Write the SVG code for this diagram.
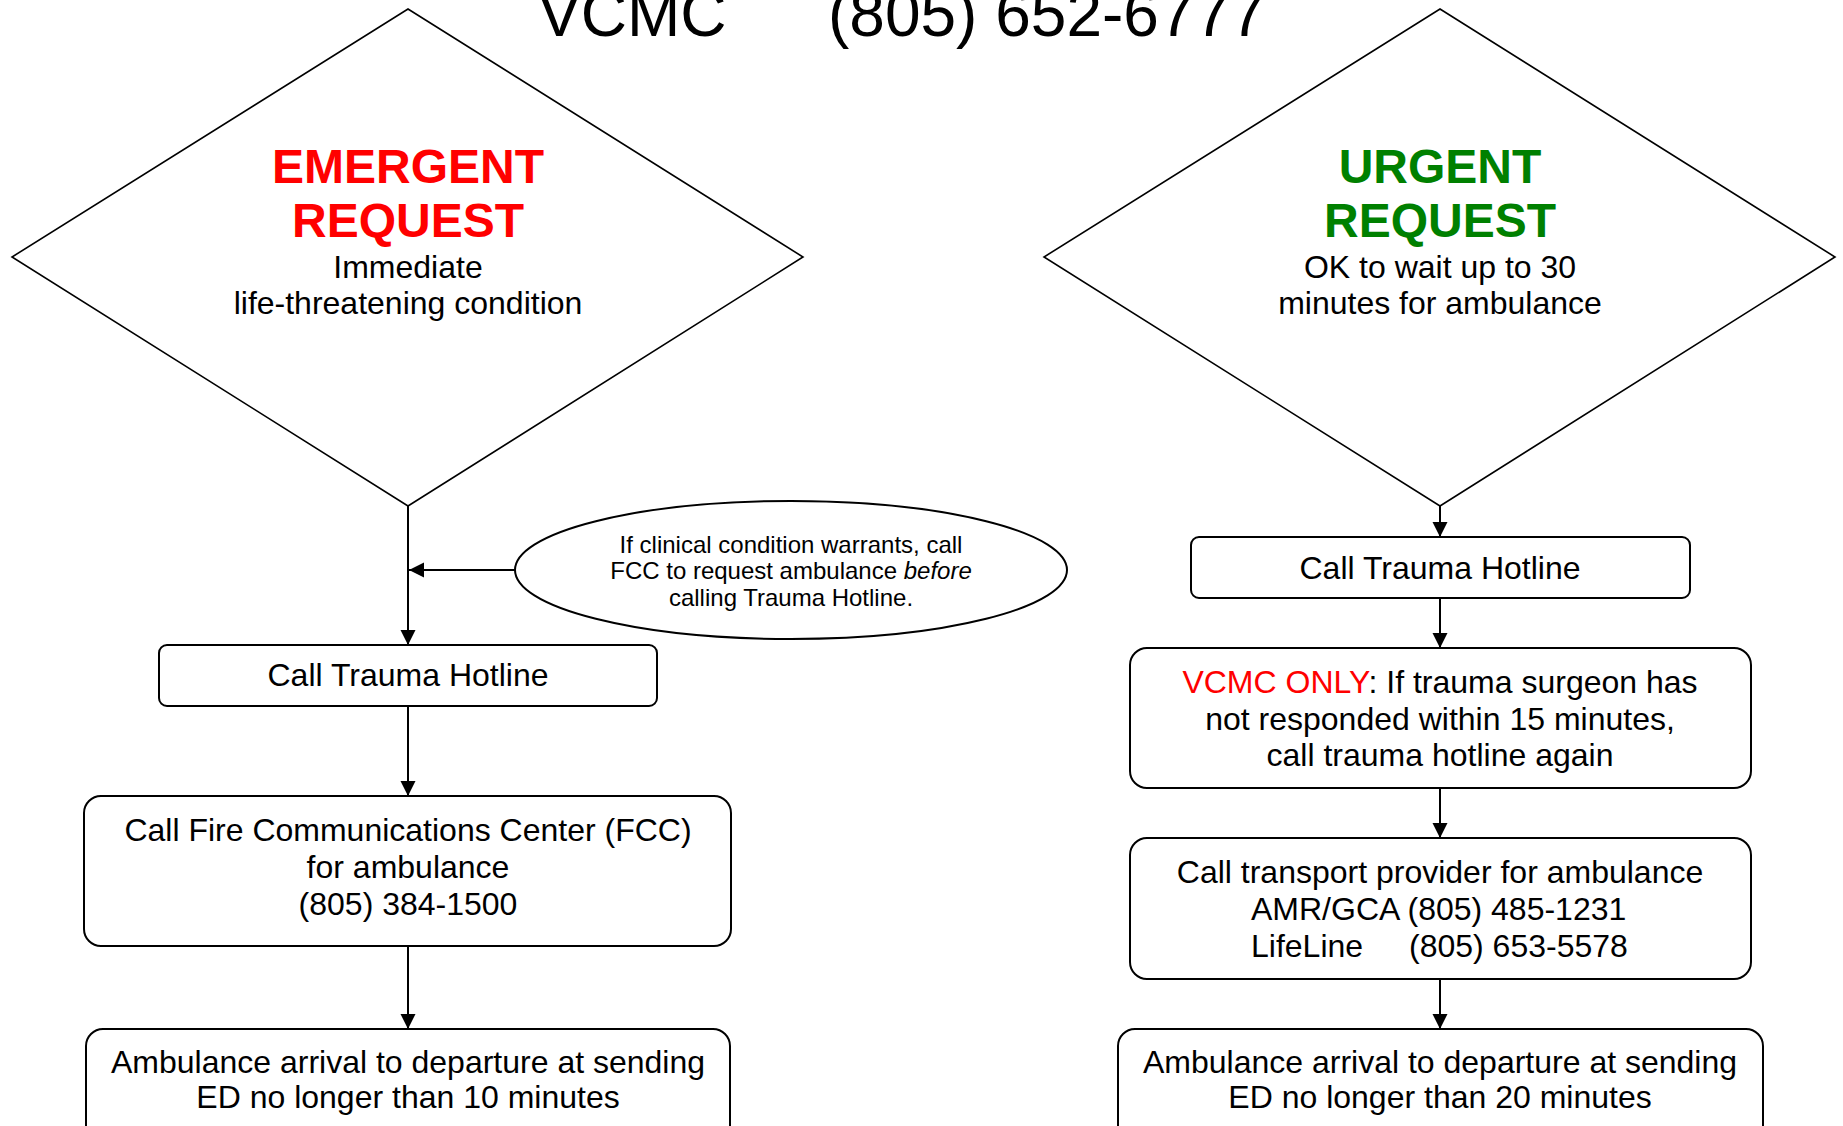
<svg xmlns="http://www.w3.org/2000/svg" width="1843" height="1126" viewBox="0 0 1843 1126">
  <style>
    text { font-family: "Liberation Sans", Arial, sans-serif; fill: #000; }
    .t { font-size: 32px; text-anchor: middle; }
    .s { font-size: 24px; text-anchor: middle; }
    .h { font-size: 48px; font-weight: bold; text-anchor: middle; }
    .title { font-size: 64px; }
    .shape { fill: #fff; stroke: #000; stroke-width: 2; }
    .dia { fill: #fff; stroke: #000; stroke-width: 1.6; }
    .conn { stroke: #000; stroke-width: 2; fill: none; }
  </style>
  <defs>
    <marker id="arr" markerUnits="userSpaceOnUse" markerWidth="16" markerHeight="16" refX="15" refY="7.5" orient="auto">
      <path d="M0,0 L15,7.5 L0,15 z" fill="#000"/>
    </marker>
  </defs>
  <rect width="1843" height="1126" fill="#fff"/>

  <g id="title">
    <text class="title" x="538" y="36">VCMC</text>
    <text class="title" x="828" y="36">(805) 652-6777</text>
  </g>

  <g id="connectors">
    <line class="conn" x1="408" y1="506" x2="408" y2="645" marker-end="url(#arr)"/>
    <line class="conn" x1="515" y1="570" x2="409" y2="570" marker-end="url(#arr)"/>
    <line class="conn" x1="408" y1="706" x2="408" y2="796" marker-end="url(#arr)"/>
    <line class="conn" x1="408" y1="946" x2="408" y2="1029" marker-end="url(#arr)"/>
    <line class="conn" x1="1440" y1="506" x2="1440" y2="537" marker-end="url(#arr)"/>
    <line class="conn" x1="1440" y1="598" x2="1440" y2="648" marker-end="url(#arr)"/>
    <line class="conn" x1="1440" y1="788" x2="1440" y2="838" marker-end="url(#arr)"/>
    <line class="conn" x1="1440" y1="979" x2="1440" y2="1029" marker-end="url(#arr)"/>
  </g>

  <g id="emergent">
    <polygon class="dia" points="408,9 803,257 408,506 12,257"/>
    <text class="h" x="408" y="183" style="fill:#ff0000">EMERGENT</text>
    <text class="h" x="408" y="237" style="fill:#ff0000">REQUEST</text>
    <text class="t" x="408" y="278">Immediate</text>
    <text class="t" x="408" y="314">life-threatening condition</text>
  </g>

  <g id="note">
    <ellipse class="shape" cx="791" cy="570" rx="276" ry="69"/>
    <text class="s" x="791" y="553">If clinical condition warrants, call</text>
    <text class="s" x="791" y="579">FCC to request ambulance <tspan font-style="italic">before</tspan></text>
    <text class="s" x="791" y="606">calling Trauma Hotline.</text>
  </g>

  <g id="left-hotline">
    <rect class="shape" x="159" y="645" width="498" height="61" rx="8"/>
    <text class="t" x="408" y="686">Call Trauma Hotline</text>
  </g>

  <g id="left-fcc">
    <rect class="shape" x="84" y="796" width="647" height="150" rx="17"/>
    <text class="t" x="408" y="841">Call Fire Communications Center (FCC)</text>
    <text class="t" x="408" y="878">for ambulance</text>
    <text class="t" x="408" y="915">(805) 384-1500</text>
  </g>

  <g id="left-departure">
    <rect class="shape" x="86" y="1029" width="644" height="120" rx="17"/>
    <text class="t" x="408" y="1073">Ambulance arrival to departure at sending</text>
    <text class="t" x="408" y="1108">ED no longer than 10 minutes</text>
  </g>

  <g id="urgent">
    <polygon class="dia" points="1440,9 1835,257 1440,506 1044,257"/>
    <text class="h" x="1440" y="183" style="fill:#008000">URGENT</text>
    <text class="h" x="1440" y="237" style="fill:#008000">REQUEST</text>
    <text class="t" x="1440" y="278">OK to wait up to 30</text>
    <text class="t" x="1440" y="314">minutes for ambulance</text>
  </g>

  <g id="right-hotline">
    <rect class="shape" x="1191" y="537" width="499" height="61" rx="8"/>
    <text class="t" x="1440" y="579">Call Trauma Hotline</text>
  </g>

  <g id="right-vcmc">
    <rect class="shape" x="1130" y="648" width="621" height="140" rx="17"/>
    <text class="t" x="1440" y="693"><tspan style="fill:#ff0000">VCMC ONLY</tspan>: If trauma surgeon has</text>
    <text class="t" x="1440" y="730">not responded within 15 minutes,</text>
    <text class="t" x="1440" y="766">call trauma hotline again</text>
  </g>

  <g id="right-transport">
    <rect class="shape" x="1130" y="838" width="621" height="141" rx="17"/>
    <text class="t" x="1440" y="883">Call transport provider for ambulance</text>
    <text font-size="32" x="1251" y="920">AMR/GCA (805) 485-1231</text>
    <text font-size="32" x="1251" y="957">LifeLine</text>
    <text font-size="32" x="1409" y="957">(805) 653-5578</text>
  </g>

  <g id="right-departure">
    <rect class="shape" x="1118" y="1029" width="645" height="120" rx="17"/>
    <text class="t" x="1440" y="1073">Ambulance arrival to departure at sending</text>
    <text class="t" x="1440" y="1108">ED no longer than 20 minutes</text>
  </g>
</svg>
